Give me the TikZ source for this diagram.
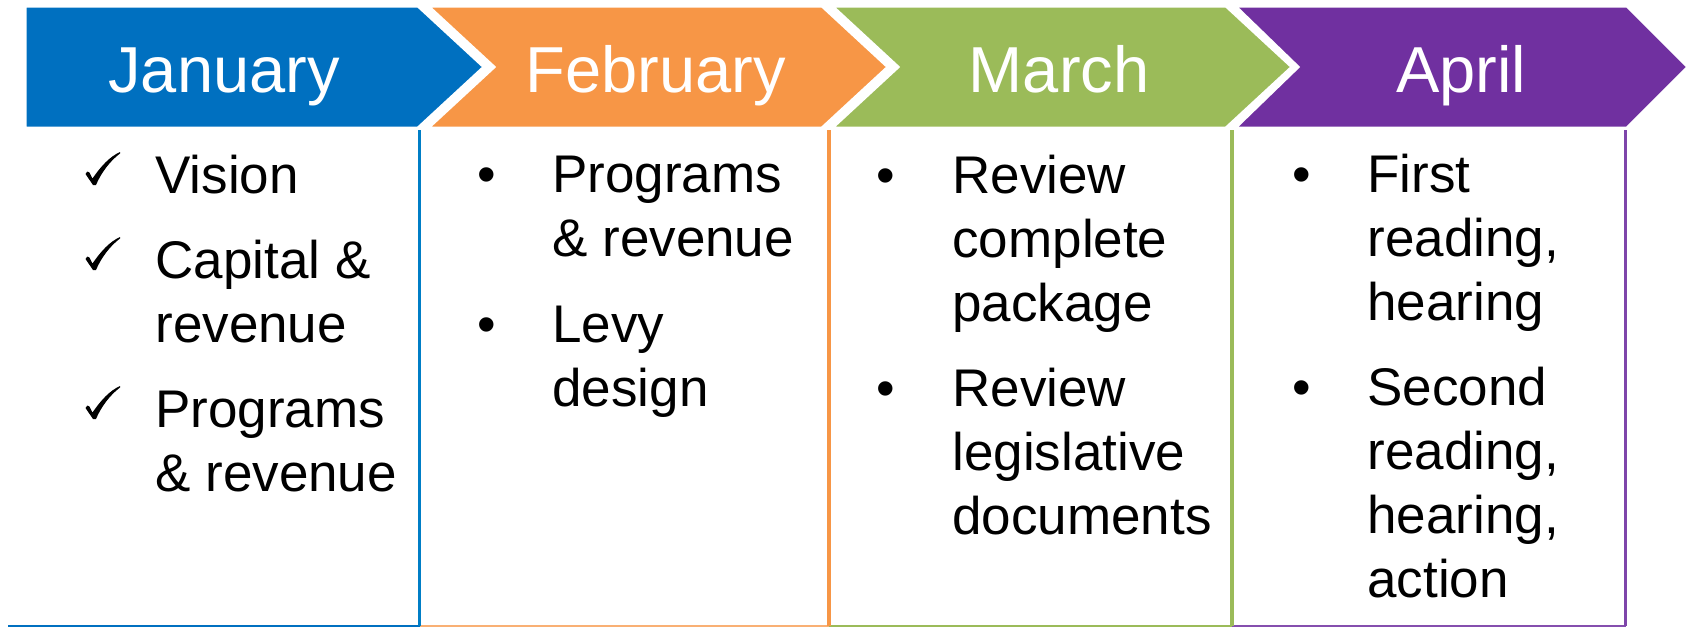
\documentclass[tikz,border=0pt]{standalone}
\usepackage{fontspec}
\setmainfont{Liberation Sans}
\definecolor{janblue}{HTML}{0070C0}
\definecolor{feborange}{HTML}{F79646}
\definecolor{margreen}{HTML}{9BBB59}
\definecolor{aprpurple}{HTML}{7030A0}
\begin{document}
\begin{tikzpicture}[x=0.5pt,y=-0.5pt,
  chev/.style={draw=white, line width=1.5pt, line join=miter},
  head/.style={text=white, font=\fontsize{32.5}{39}\selectfont, inner sep=0pt, anchor=base},
  item/.style={font=\fontsize{26.5}{32}\selectfont, align=left, inner sep=0pt, anchor=north west, yshift=22.4pt},
  bul/.style={font=\fontsize{26.5}{32}\selectfont, inner sep=0pt, anchor=base west},
  side/.style={line width=1.75pt},
  base/.style={line width=1pt},
  % calligraphic check mark, origin at its lowest point
  tickmark/.pic={
    \fill (0,0) -- (-7.5,-11)
      .. controls (-7,-13.5) and (-4.5,-14.5) .. (-3.5,-12.5)
      -- (-0.5,-6.5)
      .. controls (8,-19) and (17,-28.5) .. (27,-33)
      .. controls (27.5,-32.5) and (27.5,-32) .. (27,-31.5)
      .. controls (17,-24) and (8,-12) .. (3,0) -- cycle;
  }
]
\useasboundingbox (0,0) rectangle (1690,627);

% header chevrons
\path[chev, fill=janblue]   (25,6) -- (418,6) -- (484,67) -- (418,128) -- (25,128) -- cycle;
\path[chev, fill=feborange] (428,6) -- (822,6) -- (888,67) -- (822,128) -- (428,128) -- (494,67) -- cycle;
\path[chev, fill=margreen]  (832,6) -- (1226,6) -- (1292,67) -- (1226,128) -- (832,128) -- (898,67) -- cycle;
\path[chev, fill=aprpurple] (1235,6) -- (1627,6) -- (1688,67) -- (1627,128) -- (1235,128) -- (1298,67) -- cycle;

\node[head] (jan) at (224,92)  {January};
\node[head] (feb) at (656,92)  {February};
\node[head] (mar) at (1059,92) {March};
\node[head] (apr) at (1461,92) {April};

% column frames: right edge and bottom edge of each column
\coordinate (c0b) at (8,625.5);
\coordinate (c1t) at (419.5,130);  \coordinate (c1b) at (419.5,625.5);
\coordinate (c2t) at (829,130);    \coordinate (c2b) at (829,625.5);
\coordinate (c3t) at (1232,130);   \coordinate (c3b) at (1232,625.5);
\coordinate (c4t) at (1625.5,130); \coordinate (c4b) at (1625.5,625.5);

\draw[base, janblue] (c0b) -- (c1b);
\draw[base, feborange!75] (c1b) -- (c2b);
\draw[base, margreen] (c2b) -- (c3b);
\draw[base, aprpurple!85] (c3b) -- (c4b);

\draw[side, janblue!90!cyan] (c1t) -- (c1b);
\draw[side, feborange] (c2t) -- (c2b);
\draw[side, margreen] (c3t) -- (c3b);
\draw[side, aprpurple!90] (c4t) -- (c4b);

% January
\coordinate (jk1) at (93,185);
\coordinate (jk2) at (93,270);
\coordinate (jk3) at (93,419);
\pic at (jk1) {tickmark};
\pic at (jk2) {tickmark};
\pic at (jk3) {tickmark};
\node[item] (ji1) at (155,193) {\strut Vision};
\node[item] (ji2) at (155,278) {\strut Capital \&\\revenue};
\node[item] (ji3) at (155,427) {\strut Programs\\\& revenue};

% February
\node[bul] (fb1) at (477,192) {•};
\node[item] (fi1) at (552,192) {\strut Programs\\\& revenue};
\node[bul] (fb2) at (477,342) {•};
\node[item] (fi2) at (552,342) {\strut Levy\\design};

% March
\node[bul] (mb1) at (876,193) {•};
\node[item] (mi1) at (952,193) {\strut Review\\complete\\package};
\node[bul] (mb2) at (876,406) {•};
\node[item] (mi2) at (952,406) {\strut Review\\legislative\\documents};

% April
\node[bul] (ab1) at (1292,192) {•};
\node[item] (ai1) at (1367,192) {\strut First\\reading,\\hearing};
\node[bul] (ab2) at (1292,405) {•};
\node[item] (ai2) at (1367,405) {\strut Second\\reading,\\hearing,\\action};
\end{tikzpicture}
\end{document}
